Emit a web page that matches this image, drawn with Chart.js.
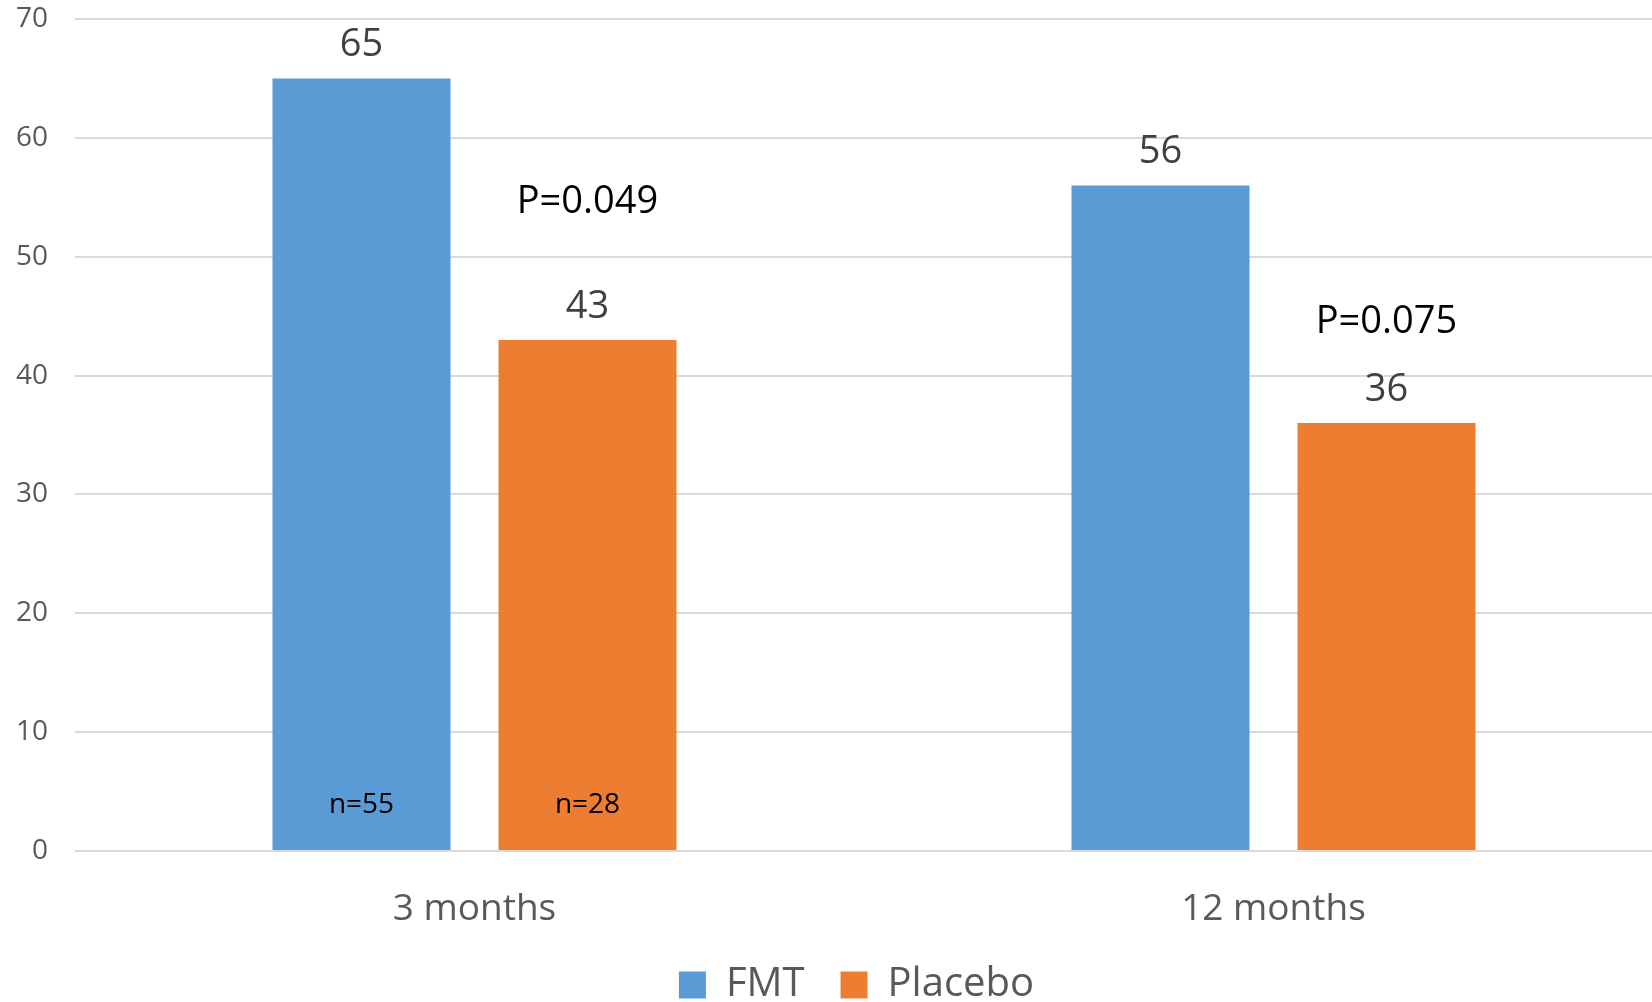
<!DOCTYPE html>
<html>
<head>
<meta charset="utf-8">
<title>FMT vs Placebo</title>
<script src="https://cdn.jsdelivr.net/npm/chart.js@4/dist/chart.umd.min.js"></script>
<style>
  html, body { margin: 0; padding: 0; background: #ffffff; overflow: hidden; }
  #wrap { width: 1652px; height: 1002px; overflow: hidden; position: relative; }
  canvas { display: block; }
</style>
</head>
<body>
<div id="wrap"><canvas id="chart" width="1700" height="1015"></canvas></div>
<script>
// Response rates (%) by follow-up time
const categories = ['3 months', '12 months'];
const fmtValues = [65, 56];
const placeboValues = [43, 36];
const fmtSampleSizes = ['n=55', null];
const placeboSampleSizes = ['n=28', null];
const pValues = ['P=0.049', 'P=0.075'];
const yTicks = [0, 10, 20, 30, 40, 50, 60, 70];

// Vertical lift (px) of each P-value note above the placebo bar top
const pLabelLift = [138, 101];

const FONT = "'Open Sans', 'DejaVu Sans', sans-serif";
Chart.defaults.font.family = FONT;

// Value, sample-size and P-value annotations on the bars
const barLabels = {
  id: 'barLabels',
  afterDatasetsDraw(chart) {
    const ctx = chart.ctx;
    ctx.save();
    ctx.textAlign = 'center';
    ctx.textBaseline = 'middle';
    chart.data.datasets.forEach((ds, di) => {
      const meta = chart.getDatasetMeta(di);
      meta.data.forEach((bar, i) => {
        ctx.font = '38px ' + FONT;
        ctx.fillStyle = '#404040';
        ctx.fillText(String(ds.data[i]), bar.x, bar.y - 33);
        const n = ds.sampleSizes[i];
        if (n) {
          ctx.font = '28px ' + FONT;
          ctx.fillStyle = '#000000';
          ctx.fillText(n, bar.x, bar.base - 45);
        }
      });
    });
    const pMeta = chart.getDatasetMeta(1);
    pMeta.data.forEach((bar, i) => {
      ctx.font = '38px ' + FONT;
      ctx.fillStyle = '#000000';
      ctx.fillText(pValues[i], bar.x, bar.y - pLabelLift[i]);
    });
    ctx.restore();
  }
};

// Centre the legend under the full figure rather than the padded box
const legendShift = {
  id: 'legendShift',
  afterLayout(chart) {
    if (chart.legend) chart.legend.left += 40;
  }
};

new Chart(document.getElementById('chart'), {
  type: 'bar',
  data: {
    labels: categories,
    datasets: [
      {
        label: 'FMT',
        data: fmtValues,
        sampleSizes: fmtSampleSizes,
        backgroundColor: '#5B9BD5',
        borderWidth: 0,
        categoryPercentage: 0.5657,
        barPercentage: 0.7876
      },
      {
        label: 'Placebo',
        data: placeboValues,
        sampleSizes: placeboSampleSizes,
        backgroundColor: '#ED7D31',
        borderWidth: 0,
        categoryPercentage: 0.5657,
        barPercentage: 0.7876
      }
    ]
  },
  options: {
    responsive: false,
    animation: false,
    devicePixelRatio: 1,
    layout: { padding: { left: 0, right: 27, top: 19, bottom: 0 } },
    scales: {
      x: {
        grid: { display: false },
        border: { display: false },
        ticks: { font: { size: 37 }, color: '#595959', padding: 28 },
        afterFit: s => { s.height = 78; }
      },
      y: {
        min: 0,
        max: 70,
        afterBuildTicks: s => { s.ticks = yTicks.map(v => ({ value: v })); },
        grid: { color: '#d9d9d9', lineWidth: 2, drawTicks: false },
        border: { display: false },
        ticks: { font: { size: 28 }, color: '#595959', padding: 27 },
        afterFit: s => { s.width = 75; s.paddingTop = 0; s.paddingBottom = 0; }
      }
    },
    plugins: {
      legend: {
        position: 'bottom',
        labels: {
          boxWidth: 27,
          boxHeight: 27,
          padding: 36,
          color: '#595959',
          font: { size: 40 }
        }
      },
      tooltip: { enabled: false }
    }
  },
  plugins: [barLabels, legendShift]
});
</script>
</body>
</html>
